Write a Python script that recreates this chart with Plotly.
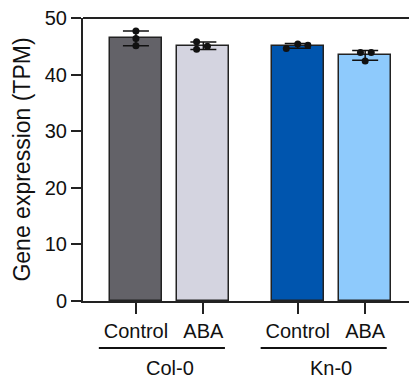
import plotly.graph_objects as go
import numpy as np

groups = ["Col-0", "Kn-0"]
treatments = ["Control", "ABA", "Control", "ABA"]
positions = [0, 1, 2.4, 3.4]
replicates = [
    [47.7, 46.4, 45.1],
    [45.8, 44.5, 45.0],
    [44.6, 45.4, 45.2],
    [43.9, 43.9, 42.4],
]
jitter = [
    [0.0, 0.0, 0.0],
    [-0.1, -0.1, 0.06],
    [-0.17, 0.0, 0.15],
    [-0.07, 0.09, 0.0],
]
colors = ["#636268", "#d4d4e0", "#0055ae", "#8ecafc"]

means = [float(np.mean(r)) for r in replicates]
sds = [float(np.std(r, ddof=1)) for r in replicates]

fig = go.Figure()
fig.add_trace(go.Bar(
    x=positions, y=means, width=0.77,
    marker=dict(color=colors, line=dict(color="#222222", width=1.5)),
    error_y=dict(type="data", array=sds, visible=True, color="#111111", thickness=1.5, width=13),
    showlegend=False,
))
px, py = [], []
for p, r, j in zip(positions, replicates, jitter):
    for v, o in zip(r, j):
        px.append(p + o)
        py.append(v)
fig.add_trace(go.Scatter(
    x=px, y=py, mode="markers",
    marker=dict(color="#111111", size=7),
    showlegend=False,
))

font = "Liberation Sans, Arial, sans-serif"
fig.update_layout(
    width=409, height=379,
    margin=dict(l=83, r=0, t=18, b=78),
    plot_bgcolor="white", paper_bgcolor="white",
    font=dict(family=font, size=20, color="#111111"),
    xaxis=dict(
        range=[-0.785, 4.05], tickmode="array", tickvals=positions, ticktext=treatments,
        showline=True, linecolor="#222222", linewidth=2, ticks="outside", ticklen=11,
        tickwidth=1.5, tickcolor="#222222", showgrid=False, zeroline=False,
        tickfont=dict(size=20),
    ),
    yaxis=dict(
        range=[0, 50], tickvals=[0, 10, 20, 30, 40, 50],
        showline=True, linecolor="#222222", linewidth=2, ticks="outside", ticklen=10,
        tickwidth=1.5, tickcolor="#222222", showgrid=False, zeroline=False,
        title=dict(text="Gene expression (TPM)", font=dict(size=23), standoff=8),
        tickfont=dict(size=20),
    ),
    bargap=0,
)
# top frame line
fig.add_shape(type="line", xref="paper", yref="paper", x0=0, x1=1, y0=1, y1=1,
              line=dict(color="#222222", width=2))
# group underlines and labels
for gi, g in enumerate(groups):
    a, b = positions[2 * gi], positions[2 * gi + 1]
    fig.add_shape(type="line", xref="x", yref="paper", x0=a - 0.55, x1=b + 0.32,
                  y0=-0.166, y1=-0.166, line=dict(color="#111111", width=2))
    fig.add_annotation(x=(a + b) / 2, y=-0.235, xref="x", yref="paper", text=g,
                       showarrow=False, font=dict(size=20), yanchor="middle")

fig.write_html("out.html")
